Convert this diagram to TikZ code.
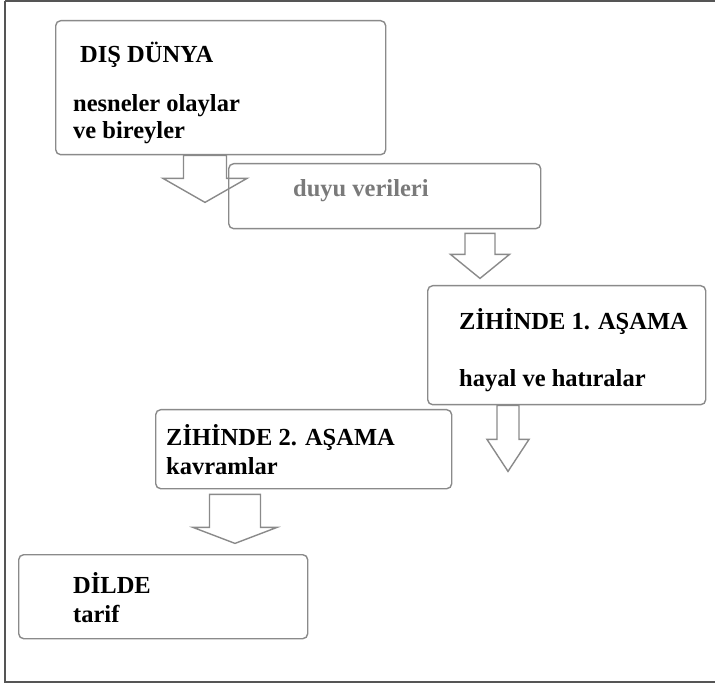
\documentclass[tikz,border=0pt]{standalone}
\usepackage{fontspec}
\setmainfont{Liberation Serif}
\usepackage{tikz}
\usetikzlibrary{calc}
\definecolor{boxgray}{HTML}{8A8A8A}
\definecolor{framegray}{HTML}{555555}
\definecolor{textgray}{HTML}{7A7A7A}
\tikzset{stage box/.style={draw=boxgray,line width=1.4pt,rounded corners=5pt,anchor=north west,inner sep=0pt},
	stage label/.style={anchor=base west,inner sep=0pt,font=\fontsize{24.5}{27}\selectfont\bfseries},
	block arrow/.style={draw=boxgray,line width=1.4pt,line join=miter}}
% down arrow: top centre, shaft half width, shaft length, head half width, head length
\newcommand{\blockarrow}[5]{%
	\draw[block arrow] ($#1+(-#2,0)$) -- ++(0,#3) -- ++(#2-#4,0) -- ++(#4,#5) -- ++(#4,-#5) -- ++(#2-#4,0) -- ++(0,-#3) -- cycle;}

\begin{document}
\begin{tikzpicture}[x=1pt,y=-1pt]
			\useasboundingbox (0,0) rectangle (715,684);
			\draw[framegray,line width=1.8pt] (5,1) -- (720,1) (5,1) -- (5,682) -- (720,682);
			% boxes
			\node[stage box,minimum width=330pt,minimum height=134pt] (dunya) at (55,20) {};
			\node[stage box,minimum width=312pt,minimum height=65pt] (duyu) at (228,163) {};
			\node[stage box,minimum width=278pt,minimum height=119pt] (asama1) at (427,285) {};
			\node[stage box,minimum width=296pt,minimum height=79pt] (asama2) at (155,409) {};
			\node[stage box,minimum width=289pt,minimum height=84pt] (dilde) at (18,554) {};
			% texts
			\node[stage label] (dunyaA) at (80,63) {DIŞ DÜNYA};
			\node[stage label] (dunyaB) at (73,112) {nesneler olaylar};
			\node[stage label] (dunyaC) at (73,139) {ve bireyler};
			\node[stage label,text=textgray] (duyuA) at (293,197) {duyu verileri};
			\node[stage label] (asama1A) at (459,330) {ZİHİNDE 1. AŞAMA};
			\node[stage label] (asama1B) at (459,387) {hayal ve hatıralar};
			\node[stage label] (asama2A) at (166,446) {ZİHİNDE 2. AŞAMA};
			\node[stage label] (asama2B) at (166,474) {kavramlar};
			\node[stage label] (dildeA) at (73,593) {DİLDE};
			\node[stage label] (dildeB) at (73,622) {tarif};
			% arrows
			\blockarrow{($(dunya.south west)+(150,0)$)}{21.5}{23}{42}{24}
			\blockarrow{($(duyu.south west)+(252,4)$)}{15}{21}{29.5}{24}
			\blockarrow{($(asama1.south west)+(81,0)$)}{11}{34}{21}{32}
			\blockarrow{($(asama2.south west)+(80,5)$)}{25.5}{33}{42}{16}
		\end{tikzpicture}
\end{document}
